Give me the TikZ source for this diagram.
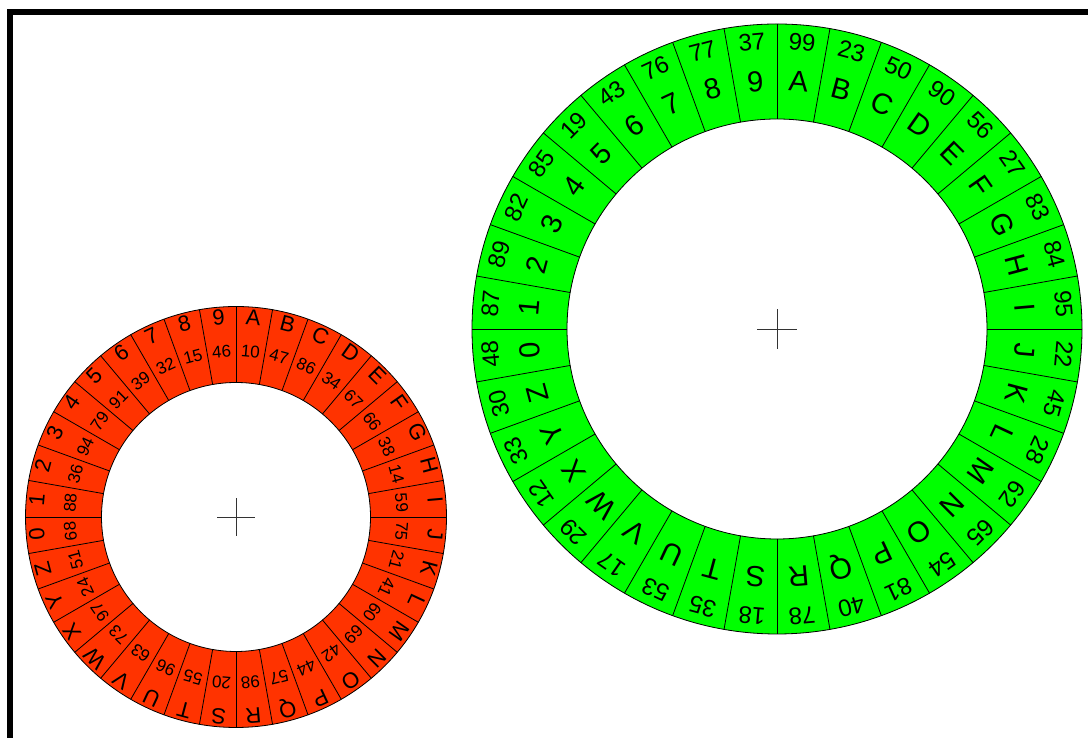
\documentclass[tikz,border=0pt]{standalone}
\usepackage{fontspec}
\setmainfont{Liberation Sans}
\definecolor{redwheel}{RGB}{255,51,0}
\definecolor{greenwheel}{RGB}{0,255,0}
\tikzset{
  wheelline/.style={draw=black, line width=0.8pt},
  crossline/.style={draw=black!80, line width=0.8pt},
  wheeltext/.style={inner sep=0pt, text height=0.72em, text depth=0pt, anchor=center},
  redletter/.style={wheeltext, font=\fontsize{22}{22}\selectfont},
  rednumber/.style={wheeltext, font=\fontsize{17}{17}\selectfont},
  greenletter/.style={wheeltext, font=\fontsize{29}{29}\selectfont},
  greennumber/.style={wheeltext, font=\fontsize{24}{24}\selectfont},
  frameline/.style={draw=black, line width=6pt}
}
\begin{document}
\begin{tikzpicture}[x=1pt,y=1pt]
\useasboundingbox (0,0) rectangle (1088,738);
\fill[white] (0,0) rectangle (1088,738);
\draw[frameline] (10,0) -- (10,726) -- (1088,726);

% red wheel
\begin{scope}[shift={(236,221)}]
  \fill[redwheel, even odd rule] (0,0) circle (210.5) (0,0) circle (134.5);
  \draw[wheelline] (0,0) circle (210.5);
  \draw[wheelline] (0,0) circle (134.5);
  \foreach \i in {0,...,35} {
    \draw[wheelline] (90-10*\i:134.5) -- (90-10*\i:210.5);
  }
  \foreach \l/\n [count=\k from 0] in {A/10,B/47,C/86,D/34,E/67,F/66,G/38,H/14,I/59,J/75,K/21,L/41,M/60,N/69,O/42,P/44,Q/57,R/98,S/20,T/55,U/96,V/63,W/73,X/97,Y/24,Z/51,0/68,1/88,2/36,3/94,4/79,5/91,6/39,7/32,8/15,9/46} {
    \pgfmathsetmacro\ang{85-10*\k}
    \node[redletter, rotate=\ang-90] (rl\k) at (\ang:196) {\l};
    \node[rednumber, rotate=\ang-90] (rn\k) at (\ang:164) {\n};
  }
  \coordinate (rc) at (0,0);
  \draw[crossline] (-19,0) -- (19,0);
  \draw[crossline] (0,-19) -- (0,19);
\end{scope}

% green wheel
\begin{scope}[shift={(777,409)}]
  \fill[greenwheel, even odd rule] (0,0) circle (305) (0,0) circle (210);
  \draw[wheelline] (0,0) circle (305);
  \draw[wheelline] (0,0) circle (210);
  \foreach \i in {0,...,35} {
    \draw[wheelline] (90-10*\i:210) -- (90-10*\i:305);
  }
  \foreach \l/\n [count=\k from 0] in {A/99,B/23,C/50,D/90,E/56,F/27,G/83,H/84,I/95,J/22,K/45,L/28,M/62,N/65,O/54,P/81,Q/40,R/78,S/18,T/35,U/53,V/17,W/29,X/12,Y/33,Z/30,0/48,1/87,2/89,3/82,4/85,5/19,6/43,7/76,8/77,9/37} {
    \pgfmathsetmacro\ang{85-10*\k}
    \node[greenletter, rotate=\ang-90] (gl\k) at (\ang:242) {\l};
    \node[greennumber, rotate=\ang-90] (gn\k) at (\ang:283) {\n};
  }
  \coordinate (gc) at (0,0);
  \draw[crossline] (-20,0) -- (20,0);
  \draw[crossline] (0,-20) -- (0,20);
\end{scope}
\end{tikzpicture}
\end{document}
